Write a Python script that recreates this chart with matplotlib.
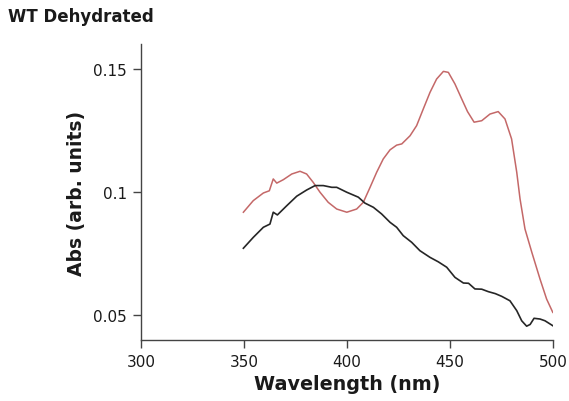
import matplotlib
matplotlib.use("Agg")
import matplotlib.pyplot as plt

# Red (trace 1) spectrum
red_x = [349.7, 354.5, 359.4, 362.3, 364.2, 365.9, 369.1, 373.2, 377.2, 380.4, 383.6,
         386.9, 390.9, 395.0, 399.9, 404.7, 407.9, 411.2, 414.4, 417.6, 420.9, 424.1,
         426.6, 430.6, 433.8, 437.0, 440.3, 443.5, 446.8, 449.2, 452.4, 455.7, 458.5,
         461.7, 465.4, 469.4, 473.4, 476.7, 479.9, 482.4, 484.0, 486.4, 489.7, 493.7,
         496.9, 499.9]
red_y = [0.0918, 0.0965, 0.0996, 0.1005, 0.1053, 0.1036, 0.1050, 0.1073, 0.1084, 0.1073,
         0.1039, 0.0999, 0.0958, 0.0931, 0.0918, 0.0931, 0.0958, 0.1019, 0.1080, 0.1134,
         0.1171, 0.1190, 0.1195, 0.1228, 0.1269, 0.1336, 0.1404, 0.1458, 0.1489, 0.1485,
         0.1438, 0.1377, 0.1326, 0.1283, 0.1289, 0.1316, 0.1326, 0.1296, 0.1215, 0.1080,
         0.0972, 0.0850, 0.0756, 0.0647, 0.0566, 0.0512]

# Black (trace 2) spectrum
black_x = [349.7, 354.5, 359.4, 362.6, 364.2, 366.2, 370.7, 375.6, 380.4, 384.5, 388.5,
           392.6, 395.0, 399.9, 405.5, 408.7, 412.8, 416.8, 420.9, 424.1, 427.3, 431.4,
           435.4, 440.3, 444.3, 448.4, 452.4, 456.5, 459.0, 462.1, 465.4, 468.6, 472.0,
           475.1, 479.1, 482.4, 484.8, 487.2, 488.9, 490.8, 493.7, 496.1, 499.9]
black_y = [0.0772, 0.0816, 0.0857, 0.0870, 0.0918, 0.0907, 0.0944, 0.0983, 0.1008, 0.1026,
           0.1026, 0.1019, 0.1019, 0.0999, 0.0979, 0.0955, 0.0938, 0.0911, 0.0877, 0.0857,
           0.0823, 0.0796, 0.0762, 0.0735, 0.0717, 0.0695, 0.0654, 0.0631, 0.0630, 0.0607,
           0.0606, 0.0596, 0.0588, 0.0577, 0.0559, 0.0519, 0.0478, 0.0456, 0.0463, 0.0488,
           0.0485, 0.0478, 0.0458]

x_ticks = [300, 350, 400, 450, 500]
y_ticks = [0.05, 0.1, 0.15]
y_tick_labels = ["0.05", "0.1", "0.15"]

plt.rcParams['font.family'] = ['DejaVu Sans']

fig = plt.figure(figsize=(5.69, 4.02), dpi=100)
ax = fig.add_axes([141/569, 1 - 341/402, (553-141)/569, (341-45)/402])

ax.plot(red_x, red_y, color='#c46868', lw=1.1)
ax.plot(black_x, black_y, color='#262626', lw=1.2)

ax.set_xlim(300, 500)
ax.set_ylim(0.04, 0.16)
ax.set_xticks(x_ticks)
ax.set_yticks(y_ticks)
ax.set_yticklabels(y_tick_labels)

for s in ['top', 'right']:
    ax.spines[s].set_visible(False)
for s in ['left', 'bottom']:
    ax.spines[s].set_color('#444444')
    ax.spines[s].set_linewidth(1.0)
ax.tick_params(direction='out', length=6, width=1.0, color='#444444',
               labelsize=11, pad=4, labelcolor='#1a1a1a')

ax.set_xlabel('Wavelength (nm)', fontsize=13.8, fontweight='bold', labelpad=4,
              color='#1a1a1a')
ax.set_ylabel('Abs (arb. units)', fontsize=13.5, fontweight='bold', labelpad=5,
              color='#1a1a1a')

fig.text(8/569, 1 - 17/402, 'WT Dehydrated', fontsize=12, fontweight='bold',
         va='center', ha='left', color='#1a1a1a')

fig.savefig('out.png', dpi=100)
